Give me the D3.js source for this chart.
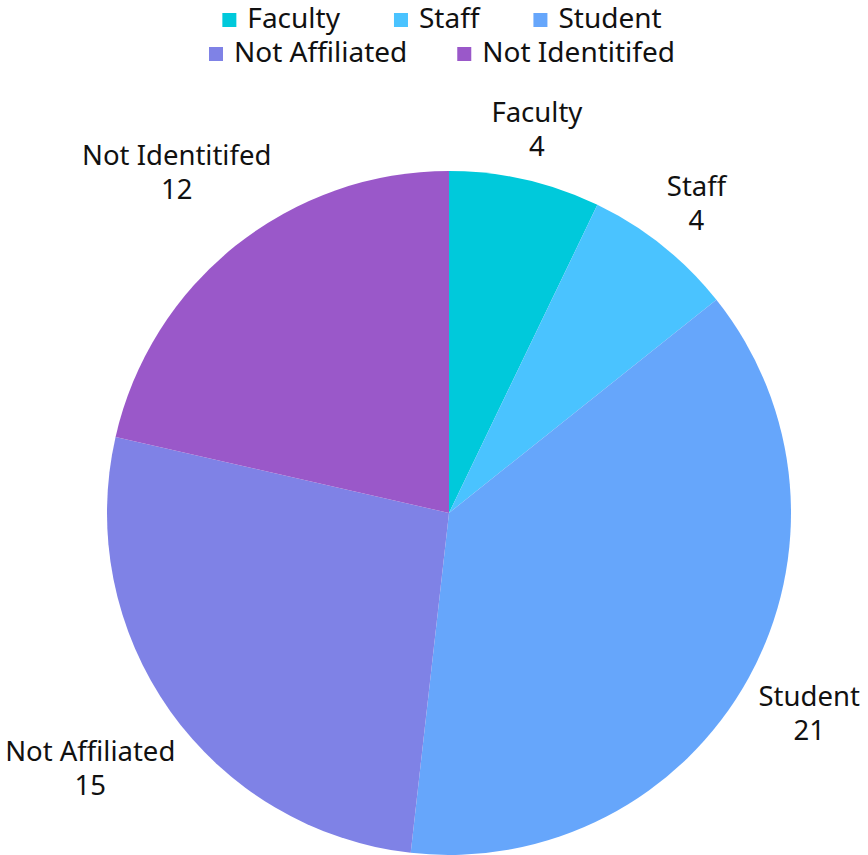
<!DOCTYPE html>
<html>
<head>
<meta charset="utf-8">
<script src="https://cdn.jsdelivr.net/npm/d3@7"></script>
<style>
  body { margin: 0; background: #fff; }
  text { font-family: "Noto Sans", "Open Sans", sans-serif; fill: #111; }
</style>
</head>
<body>
<script>
// chart data
var categories = ["Faculty", "Staff", "Student", "Not Affiliated", "Not Identitifed"];
var counts = [4, 4, 21, 15, 12];
var colors = ["#00c9db", "#4ac3ff", "#66a6fb", "#7f82e6", "#9a58c9"];

var svgWidth = 868;
var svgHeight = 855;
var cx = 449, cy = 513;
var radius = 342;

var svg = d3.select("body").append("svg")
    .attr("width", svgWidth)
    .attr("height", svgHeight);

var color = d3.scaleOrdinal().domain(categories).range(colors);

var data = categories.map((c, i) => ({ name: c, value: counts[i] }));

var pie = d3.pie().value(d => d.value).sort(null);
var arc = d3.arc().innerRadius(0).outerRadius(radius);

var chartGroup = svg.append("g").attr("transform", `translate(${cx},${cy})`);

var arcs = pie(data);

chartGroup.selectAll("path")
    .data(arcs)
    .enter()
    .append("path")
    .attr("d", arc)
    .attr("fill", d => color(d.data.name));

// labels: placed outside, pushed out by their own box size
var labelBase = 350;
var labels = chartGroup.selectAll("g.label")
    .data(arcs)
    .enter()
    .append("g")
    .attr("class", "label");

labels.append("text")
    .attr("text-anchor", "middle")
    .style("font-size", "27.5px")
    .attr("y", -8)
    .text(d => d.data.name);
labels.append("text")
    .attr("text-anchor", "middle")
    .style("font-size", "27.5px")
    .attr("y", 26)
    .text(d => d.data.value);

labels.each(function(d) {
    var box = this.getBBox();
    var a = (d.startAngle + d.endAngle) / 2;
    var s = Math.sin(a), c = -Math.cos(a);
    var r = labelBase + Math.abs(s) * box.width / 2 + Math.abs(c) * box.height / 2;
    var x = r * s;
    var y = r * c;
    var dy = y - (box.y + box.height / 2);
    d3.select(this).attr("transform", `translate(${x},${dy})`);
});

// legend
var legendRows = [categories.slice(0, 3), categories.slice(3)];
var legendY = [20, 54];
var legendCenter = 442;
var sq = 14, sqGap = 11, itemGap = [54, 50];

legendRows.forEach((row, ri) => {
    var g = svg.append("g");
    var x = 0;
    row.forEach(name => {
        var item = g.append("g").attr("transform", `translate(${x},0)`);
        item.append("rect")
            .attr("x", 0)
            .attr("y", legendY[ri] - sq / 2)
            .attr("width", sq)
            .attr("height", sq)
            .attr("fill", color(name));
        var t = item.append("text")
            .attr("x", sq + sqGap)
            .attr("y", legendY[ri] + 8)
            .style("font-size", "28px")
            .text(name);
        x += sq + sqGap + t.node().getComputedTextLength() + itemGap[ri];
    });
    var total = x - itemGap[ri];
    g.attr("transform", `translate(${legendCenter - total / 2},0)`);
});
</script>
</body>
</html>
